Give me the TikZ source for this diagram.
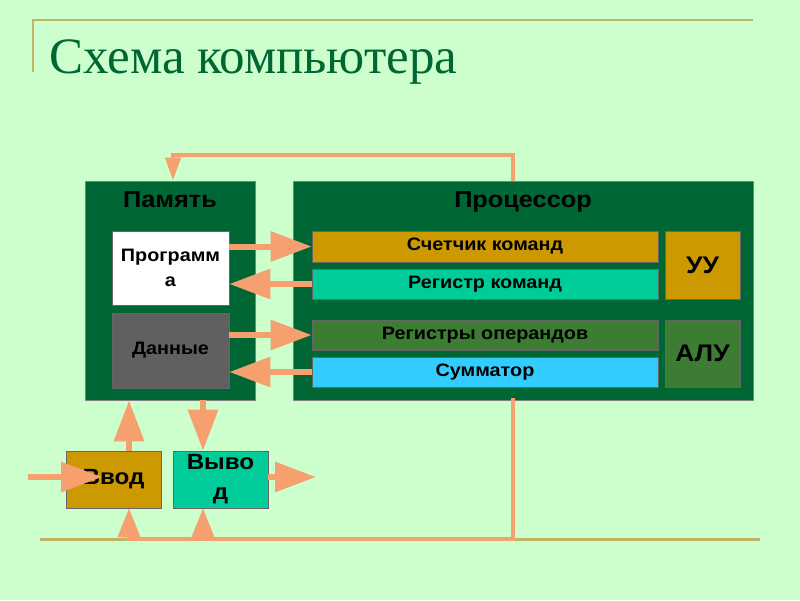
\documentclass[tikz,border=0pt]{standalone}
\usepackage{fontspec}
\setmainfont{Liberation Serif}
\setsansfont[FakeStretch=1.1]{Liberation Sans}
\usetikzlibrary{positioning,arrows.meta}
\definecolor{bgcol}{RGB}{204,255,204}
\definecolor{boxgreen}{RGB}{0,102,51}
\definecolor{decoline}{RGB}{190,180,100}
\definecolor{salmon}{RGB}{246,160,112}
\definecolor{goldc}{RGB}{204,153,0}
\definecolor{tealc}{RGB}{0,204,153}
\definecolor{oliveg}{RGB}{61,125,51}
\definecolor{cyanc}{RGB}{51,204,255}
\definecolor{grayc}{RGB}{96,96,96}
\tikzset{
unit/.style={
  fill=boxgreen,
  draw=black!50,
  line width=0.6pt,
  minimum height=219pt
  },
hdr/.style={
  font=\sffamily\bfseries\fontsize{23}{26}\selectfont,
  text=black
  },
cell/.style={
  draw=black!60,
  line width=0.6pt,
  inner sep=0pt,
  align=center,
  text=black,
  font=\sffamily\bfseries\fontsize{18}{25}\selectfont,
  fill=#1
  },
io/.style={
  cell=#1,
  minimum width=95pt,
  minimum height=57pt,
  font=\sffamily\bfseries\fontsize{22}{32}\selectfont
  },
fat/.style={
  draw=salmon,
  line width=6pt,
  -{Triangle[length=41pt,width=29pt,fill=salmon]}
  },
thinarr/.style={
  draw=salmon,
  line width=4pt,
  line join=miter,
  -{Triangle[length=23pt,width=15pt,fill=salmon]}
  },
uparr/.style={
  draw=salmon,
  line width=4pt,
  -{Triangle[length=29pt,width=22pt,fill=salmon]}
  }
}

\begin{document}
\begin{tikzpicture}[x=1pt,y=-1pt]
\useasboundingbox[fill=bgcol] (0,0) rectangle (800,600);

% slide lines
\draw[decoline,line width=2.5pt] (33,72) -- (33,20) -- (753,20);
\draw[decoline,line width=3pt] (40,539) -- (760,539);

\node[anchor=base west,inner sep=0pt,text=boxgreen,
  font=\fontsize{51}{60}\selectfont] (title) at (49,73) {Схема компьютера};

% memory
\node[unit,minimum width=170pt] (mem) at (170,290.5) {};
\node[hdr,below=7pt of mem.north] (memlbl) {Память};
\node[cell=white,minimum width=117pt,minimum height=74pt] (prog) at (170.5,268)
  {Программ\\а};
\node[cell=grayc,minimum width=117pt,minimum height=75pt] (data) at (170.5,350.5)
  {Данные};

% processor
\node[unit,minimum width=460pt] (proc) at (523,290.5) {};
\node[hdr,below=7pt of proc.north] (proclbl) {Процессор};
\node[cell=goldc,minimum width=346pt,minimum height=31pt] (cnt) at (485,246.5)
  {Счетчик команд};
\node[cell=tealc,minimum width=346pt,minimum height=30pt] (regc) at (485,284)
  {Регистр команд};
\node[cell=oliveg,minimum width=346pt,minimum height=30pt] (rego) at (485,335)
  {Регистры операндов};
\node[cell=cyanc,minimum width=346pt,minimum height=30pt] (summ) at (485,372)
  {Сумматор};
\node[cell=goldc,minimum width=75pt,minimum height=68pt,
  font=\sffamily\bfseries\fontsize{24}{28}\selectfont] (uu) at (702.5,265) {УУ};
\node[cell=oliveg,minimum width=75pt,minimum height=67pt,
  font=\sffamily\bfseries\fontsize{24}{28}\selectfont] (alu) at (702.5,353.5) {АЛУ};

% input / output
\node[io=goldc] (inp) at (113.5,479.5) {\raisebox{-3pt}{Ввод}};
\node[io=tealc] (outp) at (220.5,479.5) {\raisebox{-2pt}{Выво}\\д};

\coordinate (colA) at (129,0);
\coordinate (colB) at (203,0);
\coordinate (loopR) at (513,155);
\coordinate (loopL) at (173,155);
\coordinate (busR) at (513,539);
\coordinate (inStart) at (28,477);
\coordinate (inTip) at (102,477);
\coordinate (outEnd) at (316,477);

\draw[fat] (prog.east |- cnt.west) -- (cnt.west);
\draw[fat] (regc.west) -- (prog.east |- regc.west);
\draw[fat] (data.east |- rego.west) -- (rego.west);
\draw[fat] (summ.west) -- (data.east |- summ.west);

\draw[fat] (colA |- inp.north) -- (colA |- mem.south);
\draw[fat] (colB |- mem.south) -- (colB |- outp.north);
\draw[fat] (inStart) -- (inTip);
\draw[fat] (outp.east |- outEnd) -- (outEnd);

\draw[thinarr] (loopR |- proc.north) -- (loopR) -- (loopL) -- (loopL |- mem.north);

\draw[salmon,line width=4pt,line join=miter,line cap=rect]
  (busR |- proc.south) -- (busR) -- (colA |- busR);
\draw[uparr] (colA |- busR) -- (colA |- inp.south);
\draw[uparr] (colB |- busR) -- (colB |- outp.south);
\end{tikzpicture}
\end{document}
